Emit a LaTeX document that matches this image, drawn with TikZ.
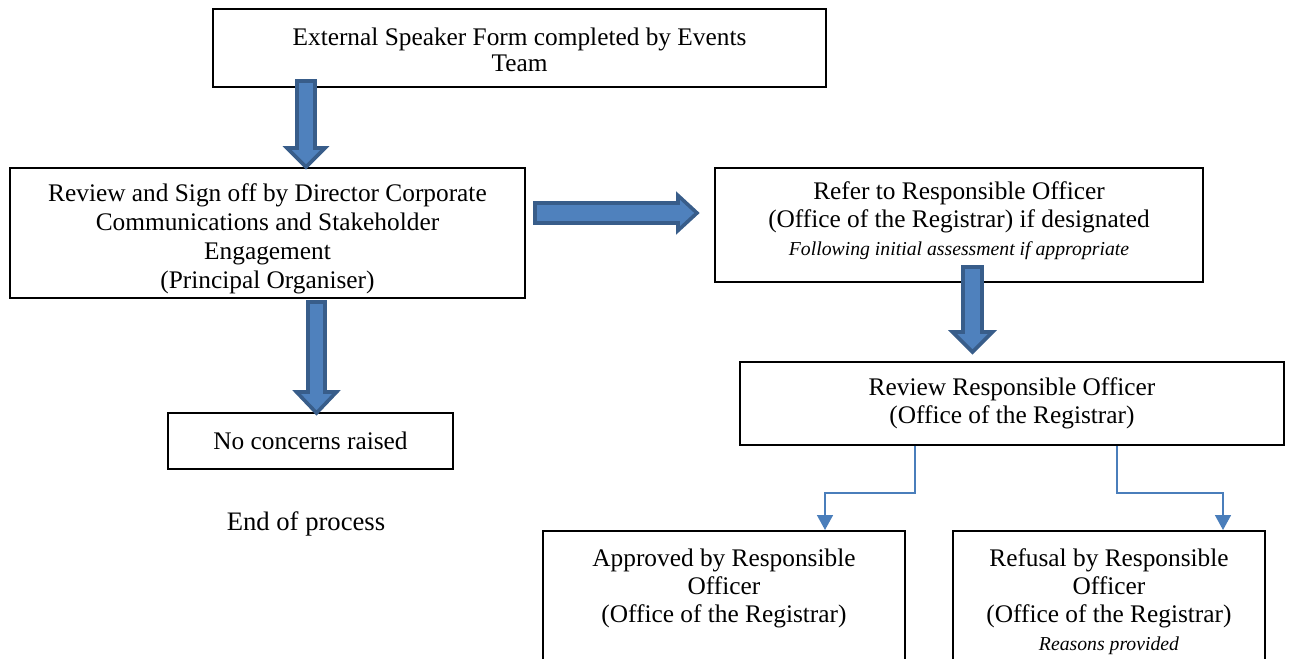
\documentclass[tikz,border=0pt]{standalone}
\usepackage{fontspec}
\setmainfont{Liberation Serif}
\usetikzlibrary{arrows.meta}
\definecolor{arrowfill}{RGB}{79,129,189}
\definecolor{arrowline}{RGB}{56,93,138}
\definecolor{connblue}{RGB}{74,126,187}
\newcommand{\smallit}[1]{{\fontsize{14.8}{19}\selectfont\itshape #1}}
\begin{document}
\begin{tikzpicture}[x=0.75pt,y=-0.75pt,
  box/.style={draw=black, line width=1.4pt, rectangle, inner sep=0pt, align=center,
    font=\fontsize{19}{21}\selectfont},
  txt/.style={inner sep=0pt, align=center, font=\fontsize{19}{21}\selectfont},
  blockarrow/.style={fill=arrowfill, draw=arrowline, line width=2.7pt},
  conn/.style={draw=connblue, line width=1.2pt, -{Triangle[length=11.25pt,width=12pt]}}]
\useasboundingbox (0,0) rectangle (1293,659);
\clip (0,0) rectangle (1293,659);

% boxes
\node[box, minimum width=613*0.75pt, minimum height=78*0.75pt] (form) at (519.5,48) {};
\node[txt, font=\fontsize{19}{19.5}\selectfont] (formtxt) at (519.5,50)
  {External Speaker Form completed by Events\\Team};
\node[box, minimum width=515*0.75pt, minimum height=130*0.75pt] (sign) at (267.5,233) {};
\node[txt, font=\fontsize{19}{21.75}\selectfont] (signtxt) at (267.5,238.5)
  {Review and Sign off by Director Corporate\\Communications and Stakeholder\\Engagement\\(Principal Organiser)};
\node[box, minimum width=488*0.75pt, minimum height=114*0.75pt] (refer) at (959,225) {};
\node[txt] (refertxt) at (959,221)
  {Refer to Responsible Officer\\(Office of the Registrar) if designated\\\smallit{Following initial assessment if appropriate}};
\node[box, minimum width=544*0.75pt, minimum height=83*0.75pt] (rev) at (1012,403.5)
  {Review Responsible Officer\\(Office of the Registrar)};
\node[box, minimum width=285*0.75pt, minimum height=56*0.75pt] (none) at (310.5,441)
  {No concerns raised};
\node[txt, font=\fontsize{20}{22}\selectfont] (end) at (306,524) {End of process};
\node[box, anchor=north, minimum width=362*0.75pt, minimum height=220*0.75pt] (appr) at (724,530) {};
\node[txt, anchor=north] (apprtxt) at (724,549)
  {Approved by Responsible\\Officer\\(Office of the Registrar)};
\node[box, anchor=north, minimum width=312*0.75pt, minimum height=220*0.75pt] (refu) at (1109,530) {};
\node[txt, anchor=north] (refutxt) at (1109,548)
  {Refusal by Responsible\\Officer\\(Office of the Registrar)\\\smallit{Reasons provided}};

% block arrows
\draw[blockarrow] (297,81) -- (315,81) -- (315,148) -- (325,148) -- (306,167) -- (287,148) -- (297,148) -- cycle;
\draw[blockarrow] (535,203) -- (678,203) -- (678,195.5) -- (697,213) -- (678,230.5) -- (678,223) -- (535,223) -- cycle;
\draw[blockarrow] (308,302) -- (325,302) -- (325,392) -- (336.5,392) -- (316.5,413) -- (296.5,392) -- (308,392) -- cycle;
\draw[blockarrow] (963,267) -- (982,267) -- (982,332) -- (992.5,332) -- (972.5,352) -- (952.5,332) -- (963,332) -- cycle;

% thin connectors
\coordinate (l1) at (915,493);
\coordinate (l2) at (825,493);
\coordinate (r1) at (1117,493);
\coordinate (r2) at (1223,493);
\draw[conn] (rev.south -| l1) -- (l1) -| (appr.north -| l2);
\draw[conn] (rev.south -| r1) -- (r1) -| (refu.north -| r2);
\end{tikzpicture}
\end{document}
